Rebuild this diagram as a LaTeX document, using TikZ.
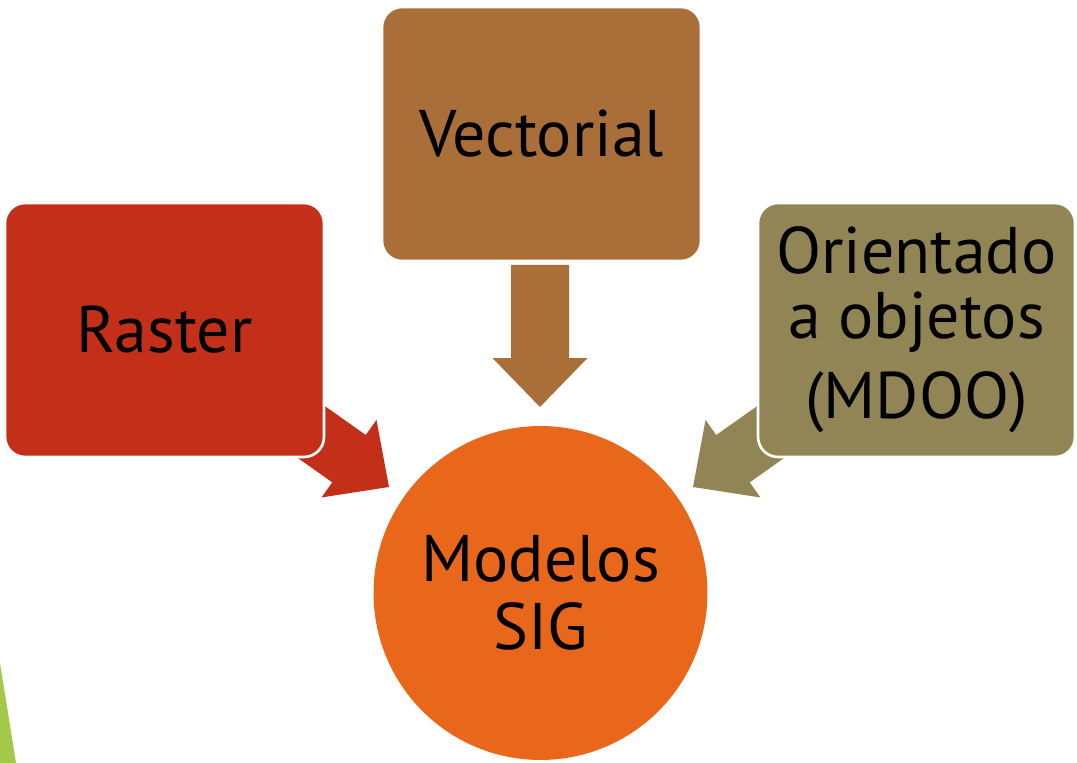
\documentclass[tikz,border=0pt]{standalone}
\usepackage{fontspec}
\setmainfont{PT Sans}
\usetikzlibrary{positioning}
\definecolor{rojoraster}{HTML}{C42F1A}
\definecolor{cafevector}{HTML}{AA6E38}
\definecolor{olivamdoo}{HTML}{918555}
\definecolor{naranjasig}{HTML}{E8671A}
\definecolor{verdeborde}{HTML}{A3C94A}

\begin{document}
\begin{tikzpicture}[x=0.02cm, y=-0.02cm,
    caja/.style={rounded corners=0.4cm, draw=white, line width=1.5pt,
        minimum width=6.38cm, minimum height=5.08cm, align=center,
        font=\fontsize{37.5}{37}\selectfont},
    flecha/.style={draw=none}]
    \useasboundingbox (0,0) rectangle (1077,763);

    % franja verde del fondo
    \fill[verdeborde] (0,663) -- (16,763) -- (0,763) -- cycle;

    % puntas de las flechas
    \coordinate (tipR) at (389,487);
    \coordinate (tipV) at (540,407);
    \coordinate (tipO) at (693,487);

    \begin{scope}[shift={(tipR)}, rotate=-35.3]
        \fill[rojoraster] (0,0) -- (-49,47.5) -- (-49,29) -- (-142,29)
            -- (-142,-29) -- (-49,-29) -- (-49,-47.5) -- cycle;
    \end{scope}
    \begin{scope}[shift={(tipV)}, rotate=-90]
        \fill[cafevector] (0,0) -- (-49,47.5) -- (-49,29) -- (-142,29)
            -- (-142,-29) -- (-49,-29) -- (-49,-47.5) -- cycle;
    \end{scope}
    \begin{scope}[shift={(tipO)}, rotate=-144.7]
        \fill[olivamdoo] (0,0) -- (-49,47.5) -- (-49,29) -- (-142,29)
            -- (-142,-29) -- (-49,-29) -- (-49,-47.5) -- cycle;
    \end{scope}

    \node[caja, fill=rojoraster] (raster) at (164.5,330) {Raster};
    \node[caja, fill=cafevector] (vectorial) at (541.5,134) {Vectorial};
    \node[caja, fill=olivamdoo, minimum width=6.34cm] (mdoo) at (916.5,330)
        {Orientado\\a objetos\\[8.5pt](MDOO)};

    \node[circle, fill=naranjasig, minimum size=6.68cm, align=center,
        font=\fontsize{37.5}{38.6}\selectfont] (modelos) at (540.5,593)
        {Modelos\\SIG};
\end{tikzpicture}
\end{document}
